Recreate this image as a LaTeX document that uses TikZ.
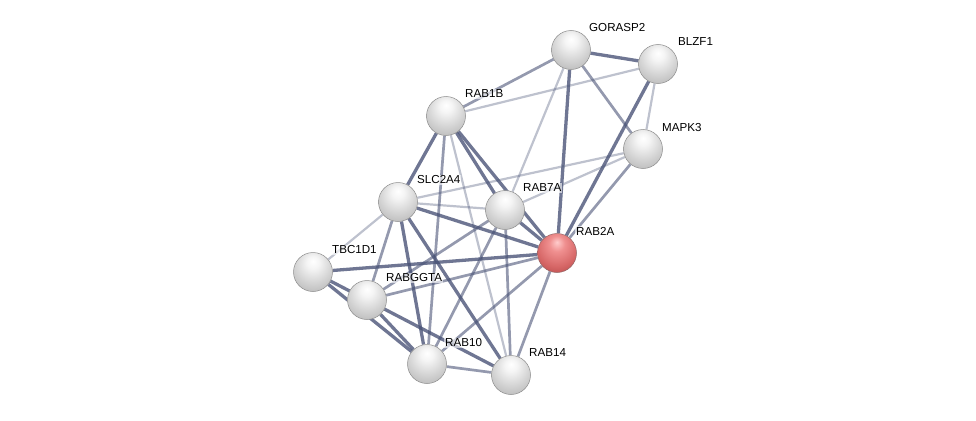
\documentclass[tikz,border=0pt]{standalone}
\usepackage{fontspec}
\setsansfont{Liberation Sans}
\usepackage{tikz}
\usetikzlibrary{positioning, backgrounds}

\definecolor{edgeblue}{RGB}{70,80,116}
\pgfdeclareradialshading{protball}{\pgfpoint{0bp}{14bp}}{%
  color(0bp)=(white); color(8bp)=(white!96!black);
  color(22bp)=(white!84!black); color(34bp)=(white!74!black);
  color(44bp)=(white!56!black); color(52bp)=(white!40!black);
  color(70bp)=(white!30!black)}
\pgfdeclareradialshading{queryball}{\pgfpoint{0bp}{14bp}}{%
  color(0bp)=(red!20!white); color(10bp)=(red!40!white!94!black);
  color(26bp)=(red!52!white!84!black); color(38bp)=(red!60!white!72!black);
  color(48bp)=(red!62!black); color(70bp)=(red!35!black)}

\begin{document}
\begin{tikzpicture}[
  x=1pt, y=-1pt,
  font=\sffamily\fontsize{11.6}{13}\selectfont,
  prot/.style={circle, minimum size=39pt, inner sep=0pt, shading=protball,
    draw=black!45, line width=0.5pt},
  query/.style={prot, shading=queryball, draw=red!30!black!60},
  lbl/.style={anchor=west, inner sep=1pt, fill=white, fill opacity=0.6,
    text opacity=1},
  strong/.style={draw=edgeblue, line width=3.3pt, draw opacity=0.78},
  medium/.style={draw=edgeblue, line width=2.7pt, draw opacity=0.58},
  weak/.style={draw=edgeblue, line width=2.2pt, draw opacity=0.35},
]
  \useasboundingbox (0,0) rectangle (976,420);

  % Proteins
  \node[prot]  (gorasp2) at (571,50)  {};
  \node[prot]  (blzf1)   at (658,64)  {};
  \node[prot]  (rab1b)   at (446,116) {};
  \node[prot]  (mapk3)   at (643,149) {};
  \node[prot]  (slc2a4)  at (398,202) {};
  \node[prot]  (rab7a)   at (505,210) {};
  \node[query] (rab2a)   at (557,253) {};
  \node[prot]  (tbc1d1)  at (313,272) {};
  \node[prot]  (rabggta) at (367,300) {};
  \node[prot]  (rab10)   at (427,364) {};
  \node[prot]  (rab14)   at (511,375) {};

  % Labels
  \node[lbl] (l-gorasp2) at (588,28)  {GORASP2};
  \node[lbl] (l-blzf1)   at (677,42)  {BLZF1};
  \node[lbl] (l-rab1b)   at (464,94)  {RAB1B};
  \node[lbl] (l-mapk3)   at (661,128) {MAPK3};
  \node[lbl] (l-slc2a4)  at (416,180) {SLC2A4};
  \node[lbl] (l-rab7a)   at (522,188) {RAB7A};
  \node[lbl] (l-rab2a)   at (575,231) {RAB2A};
  \node[lbl] (l-tbc1d1)  at (331,250) {TBC1D1};
  \node[lbl] (l-rabggta) at (385,278) {RABGGTA};
  \node[lbl] (l-rab10)   at (444,343) {RAB10};
  \node[lbl] (l-rab14)   at (528,353) {RAB14};

  % Interactions
  \begin{scope}[on background layer]
    \draw[strong] (gorasp2) -- (blzf1);
    \draw[medium] (gorasp2) -- (rab1b);
    \draw[strong] (gorasp2) -- (rab2a);
    \draw[weak]   (gorasp2) -- (rab7a);
    \draw[medium] (gorasp2) -- (mapk3);
    \draw[weak]   (blzf1) -- (rab1b);
    \draw[strong] (blzf1) -- (rab2a);
    \draw[weak]   (blzf1) -- (mapk3);
    \draw[medium] (mapk3) -- (rab2a);
    \draw[weak]   (mapk3) -- (slc2a4);
    \draw[weak]   (mapk3) -- (rab7a);
    \draw[strong] (rab1b) -- (slc2a4);
    \draw[medium] (rab1b) -- (rab10);
    \draw[weak]   (rab1b) -- (rab14);
    \draw[strong] (rab1b) -- (rab7a);
    \draw[strong] (rab1b) -- (rab2a);
    \draw[weak]   (slc2a4) -- (tbc1d1);
    \draw[weak]   (slc2a4) -- (rab7a);
    \draw[strong] (slc2a4) -- (rab2a);
    \draw[medium] (slc2a4) -- (rabggta);
    \draw[strong] (slc2a4) -- (rab10);
    \draw[strong] (slc2a4) -- (rab14);
    \draw[strong] (rab7a) -- (rab2a);
    \draw[medium] (rab7a) -- (rabggta);
    \draw[medium] (rab7a) -- (rab10);
    \draw[medium] (rab7a) -- (rab14);
    \draw[strong] (rab2a) -- (tbc1d1);
    \draw[medium] (rab2a) -- (rabggta);
    \draw[medium] (rab2a) -- (rab10);
    \draw[medium] (rab2a) -- (rab14);
    \draw[strong] (tbc1d1) -- (rabggta);
    \draw[strong] (tbc1d1) -- (rab10);
    \draw[strong] (rabggta) -- (rab10);
    \draw[strong] (rabggta) -- (rab14);
    \draw[medium] (rab10) -- (rab14);
  \end{scope}
\end{tikzpicture}
\end{document}
